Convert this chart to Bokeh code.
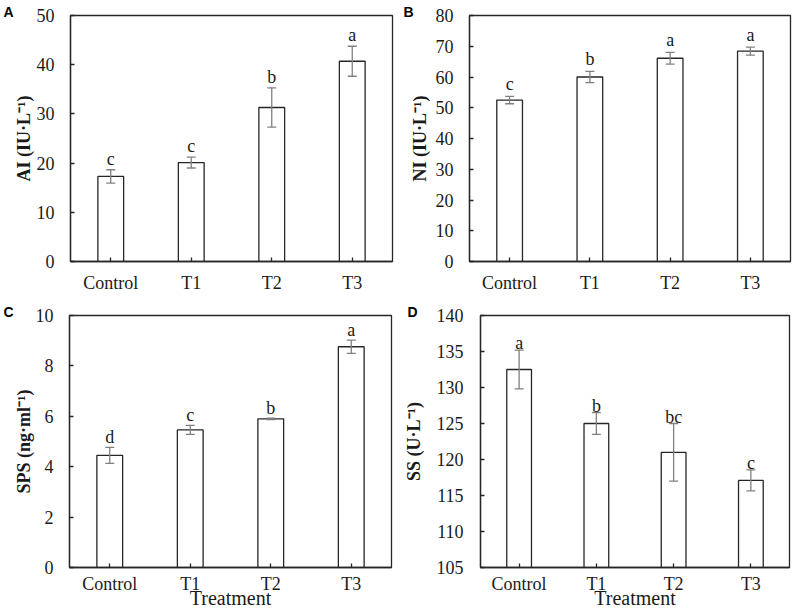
from bokeh.plotting import figure
from bokeh.models import ColumnDataSource, Whisker, TeeHead, FixedTicker, Range1d, FactorRange
from bokeh.layouts import row, column
from bokeh.core.properties import value
from bokeh.embed import file_html
from bokeh.resources import INLINE

categories = ["Control", "T1", "T2", "T3"]

ai_mean = [17.3, 20.1, 31.3, 40.7]
ai_err = [1.35, 1.1, 4.0, 3.05]
ai_letters = ["c", "c", "b", "a"]

ni_mean = [52.5, 60.0, 66.1, 68.4]
ni_err = [1.2, 1.8, 1.9, 1.3]
ni_letters = ["c", "b", "a", "a"]

sps_mean = [4.45, 5.46, 5.90, 8.76]
sps_err = [0.32, 0.18, 0.03, 0.26]
sps_letters = ["d", "c", "b", "a"]

ss_mean = [132.5, 125.0, 121.0, 117.1]
ss_err = [2.7, 1.5, 4.0, 1.45]
ss_letters = ["a", "b", "bc", "c"]

SERIF = "Liberation Serif"
INK = "#1a1a1a"
LINE = "#262626"
ERR = "#808080"


def panel(tag, ylabel, means, errs, letters, ylo, yhi, ticks, width, height,
          bl, br, bt, bb, xlabel=None, x_standoff=11, y_label_standoff=0,
          y_tick_standoff=16, letter_off=-11):
    p = figure(x_range=FactorRange(factors=categories, range_padding=0),
               y_range=Range1d(ylo, yhi), width=width, height=height,
               output_backend="svg", toolbar_location=None)
    p.min_border_left = bl
    p.min_border_right = br
    p.min_border_top = bt
    p.min_border_bottom = bb
    p.background_fill_color = "white"
    p.border_fill_color = "white"
    p.outline_line_color = LINE
    p.outline_line_width = 1.3
    p.xgrid.visible = False
    p.ygrid.visible = False

    p.title.text = tag
    p.title.align = "left"
    p.title.offset = -bl + 3
    p.title.standoff = -8
    p.title.vertical_align = "bottom"
    p.title.text_font = "Liberation Sans"
    p.title.text_font_style = "bold"
    p.title.text_font_size = "14px"
    p.title.text_color = "black"

    src = ColumnDataSource(dict(
        x=categories, top=means,
        upper=[m + e for m, e in zip(means, errs)],
        lower=[m - e for m, e in zip(means, errs)],
        label=letters))
    p.vbar(x="x", top="top", bottom=ylo, width=0.32, source=src,
           fill_color="white", line_color=LINE, line_width=1.3)
    w = Whisker(base="x", upper="upper", lower="lower", source=src,
                dimension="height", line_color=ERR, line_width=1.3,
                level="annotation",
                upper_head=TeeHead(size=9, line_color=ERR, line_width=1.3),
                lower_head=TeeHead(size=9, line_color=ERR, line_width=1.3))
    p.add_layout(w)
    p.text(x="x", y="upper", text="label", source=src, text_align="center",
           text_baseline="alphabetic", y_offset=letter_off,
           text_font=value(SERIF), text_font_size="18px", text_color=INK)

    for ax in (p.xaxis[0], p.yaxis[0]):
        ax.axis_line_color = LINE
        ax.axis_line_width = 1.3
        ax.major_tick_line_color = LINE
        ax.major_tick_line_width = 1.3
        ax.major_tick_in = 4
        ax.major_tick_out = 0
        ax.minor_tick_in = 0
        ax.minor_tick_out = 0
        ax.major_label_text_font = SERIF
        ax.major_label_text_font_size = "18px"
        ax.major_label_text_color = INK

    ya = p.yaxis[0]
    ya.ticker = FixedTicker(ticks=ticks)
    ya.major_label_standoff = y_tick_standoff
    ya.axis_label = ylabel
    ya.axis_label_text_font = SERIF
    ya.axis_label_text_font_style = "bold"
    ya.axis_label_text_font_size = "18px"
    ya.axis_label_text_color = INK
    ya.axis_label_standoff = y_label_standoff

    xa = p.xaxis[0]
    xa.major_label_standoff = x_standoff
    if xlabel:
        xa.axis_label = xlabel
        xa.axis_label_text_font = SERIF
        xa.axis_label_text_font_style = "normal"
        xa.axis_label_text_font_size = "20px"
        xa.axis_label_text_color = INK
        xa.axis_label_standoff = -10
    return p


W1, W2 = 400, 393
H1, H2 = 300, 314

pa = panel("A", "AI (IU·L⁻¹)", ai_mean, ai_err, ai_letters, 0, 50,
           [0, 10, 20, 30, 40, 50], W1, H1, 70, 8, 15, 39,
           x_standoff=11, y_label_standoff=0, letter_off=-11)
pb = panel("B", "NI (IU·L⁻¹)", ni_mean, ni_err, ni_letters, 0, 80,
           [0, 10, 20, 30, 40, 50, 60, 70, 80], W2, H1, 69, 3, 15, 38,
           x_standoff=11, y_label_standoff=3, letter_off=-12)
pc = panel("C", "SPS (ng·ml⁻¹)", sps_mean, sps_err, sps_letters, 0, 10,
           [0, 2, 4, 6, 8, 10], W1, H2, 69, 9, 15, 47,
           xlabel="Treatment", x_standoff=6, y_label_standoff=-1, letter_off=-10)
pd_ = panel("D", "SS (U·L⁻¹)", ss_mean, ss_err, ss_letters, 105, 140,
            [105, 110, 115, 120, 125, 130, 135, 140], W2, H2, 76, 4, 15, 47,
            xlabel="Treatment", x_standoff=6, y_label_standoff=10,
            y_tick_standoff=17, letter_off=-7)

layout = column(row(pa, pb), row(pc, pd_))
open("out.html", "w").write(file_html(layout, INLINE))
